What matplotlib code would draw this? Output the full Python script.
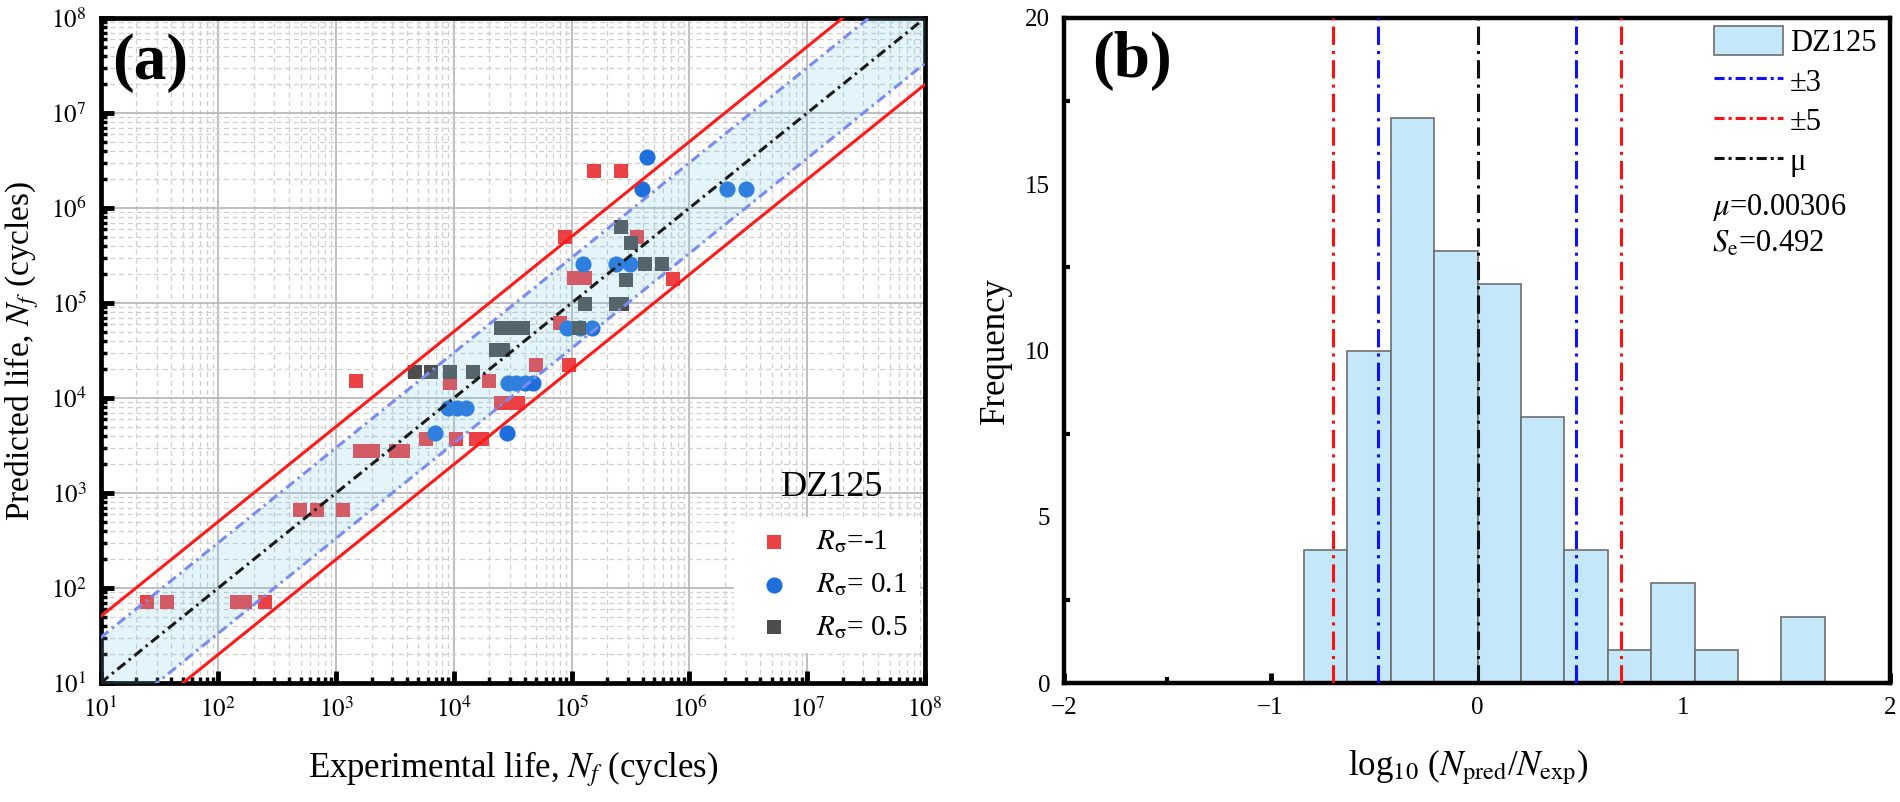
import numpy as np
import matplotlib
matplotlib.use("Agg")
import matplotlib.pyplot as plt
from matplotlib.ticker import FuncFormatter, LogLocator, MultipleLocator
from matplotlib.patches import Patch
from matplotlib.lines import Line2D

plt.rcParams['font.family'] = ['Liberation Serif', 'DejaVu Serif']
plt.rcParams['mathtext.fontset'] = 'stix'

# ---- panel (a) data: experimental vs predicted life (cycles)
red_exp = [25, 37, 145, 168, 250, 490, 690, 1150, 1600, 2050, 3200, 3700,
           1480, 5800, 10500, 15500, 17500, 9300, 20000, 25000, 30000, 35000,
           50000, 95000, 79000, 105000, 130000, 87000, 360000, 720000,
           155000, 260000]
red_pred = [72, 72, 72, 72, 72, 670, 670, 670, 2800, 2800, 2800, 2800,
            15000, 3700, 3700, 3700, 3700, 14300, 15000, 8900, 8900, 8900,
            22000, 22000, 61000, 183000, 183000, 490000, 490000, 180000,
            2450000, 2450000]

blue_exp = [6900, 28000, 9000, 10600, 12600, 29000, 34000, 40000, 47000,
            91000, 117000, 150000, 126000, 240000, 310000, 395000, 440000,
            2100000, 3000000]
blue_pred = [4300, 4300, 7900, 7900, 7900, 14300, 14300, 14300, 14300,
             54600, 54600, 54600, 260000, 260000, 260000, 1570000, 3470000,
             1570000, 1570000]

grey_exp = [4700, 6400, 9300, 14400, 23000, 26000, 25000, 32000, 39000,
            115000, 129000, 240000, 270000, 290000, 420000, 590000, 320000,
            260000]
grey_pred = [19000, 19000, 19000, 19000, 32000, 32000, 55000, 55000, 55000,
             54600, 98000, 98000, 98000, 174000, 255000, 255000, 430000,
             630000]

band_factors = [3, 5]

# ---- panel (b) data: histogram of log10(Npred/Nexp)
bin_edges = [-0.838, -0.628, -0.417, -0.207, 0.003, 0.213, 0.423, 0.634,
             0.844, 1.054, 1.264, 1.474, 1.684]
counts = [4, 10, 17, 13, 12, 8, 4, 1, 3, 1, 0, 2]
mu = 0.00306
se = 0.492

fig = plt.figure(figsize=(19, 8.02), dpi=100)
W, H = 1900, 802
ax1 = fig.add_axes([100.5 / W, (H - 683) / H, 824.5 / W, 665 / H])
ax2 = fig.add_axes([1064 / W, (H - 683) / H, 826 / W, 665 / H])

RED = '#eb4044'
BLUE = '#1e6edc'
GREY = '#4d4d4d'
LDASH = (3.3, 1.5, 0.8, 1.5)

# ---- panel (a)
ax1.set_xscale('log')
ax1.set_yscale('log')
ax1.set_xlim(1e1, 1e8)
ax1.set_ylim(1e1, 1e8)

ax1.scatter(red_exp, red_pred, marker='s', s=115, color=RED, lw=0, zorder=3,
            label=r'$R_\mathrm{σ}$=-1')
ax1.scatter(blue_exp, blue_pred, marker='o', s=135, color=BLUE, lw=0, zorder=3,
            label=r'$R_\mathrm{σ}$= 0.1')
ax1.scatter(grey_exp, grey_pred, marker='s', s=115, color=GREY, lw=0, zorder=3,
            label=r'$R_\mathrm{σ}$= 0.5')

xs = np.array([1e1, 1e8])
f3 = band_factors[0]
f5 = band_factors[1]
ax1.fill_between(xs, xs / f3, xs * f3, color='#73c8eb', alpha=0.2, lw=0, zorder=4)
ax1.plot(xs, xs * f5, color='#ff1a1a', lw=2.2, zorder=5)
ax1.plot(xs, xs / f5, color='#ff1a1a', lw=2.2, zorder=5)
ax1.plot(xs, xs * f3, color='#7b8cf0', lw=2.2, dashes=LDASH, zorder=5)
ax1.plot(xs, xs / f3, color='#7b8cf0', lw=2.2, dashes=LDASH, zorder=5)
ax1.plot(xs, xs, color='#1a1a1a', lw=2.2, dashes=LDASH, zorder=5)

ax1.xaxis.set_major_locator(LogLocator(base=10, numticks=10))
ax1.yaxis.set_major_locator(LogLocator(base=10, numticks=10))
ax1.xaxis.set_minor_locator(LogLocator(base=10, subs=np.arange(2, 10), numticks=100))
ax1.yaxis.set_minor_locator(LogLocator(base=10, subs=np.arange(2, 10), numticks=100))
fmt = FuncFormatter(lambda v, p: r'$10^{%d}$' % int(round(np.log10(v))))
ax1.xaxis.set_major_formatter(fmt)
ax1.yaxis.set_major_formatter(fmt)
ax1.grid(which='major', color='#b4b4b4', lw=1.2, zorder=0)
ax1.grid(which='minor', color='#cfcfcf', lw=0.9, ls=(0, (4, 3)), zorder=0)
ax1.set_axisbelow(True)

ax1.tick_params(which='major', direction='in', length=9, width=3.5, labelsize=18, pad=10)
ax1.tick_params(which='minor', direction='in', length=4, width=2.5)
for s in ax1.spines.values():
    s.set_linewidth(3.4)

ax1.set_xlabel(r'Experimental life, $N_f$ (cycles)', fontsize=25)
ax1.set_ylabel(r'Predicted life, $N_f$ (cycles)', fontsize=24)
ax1.xaxis.set_label_coords(0.501, -0.1)
ax1.yaxis.set_label_coords(-0.0725, 0.5)
ax1.text(0.014, 0.977, '(a)', transform=ax1.transAxes, fontsize=47,
         fontweight='bold', va='top', ha='left', zorder=10)
ax1.text(0.887, 0.281, 'DZ125', transform=ax1.transAxes, fontsize=26,
         ha='center', va='baseline', zorder=10)

leg1 = ax1.legend(loc='upper left', bbox_to_anchor=(0.751, 0.272), fontsize=21,
                  frameon=True, framealpha=1, edgecolor='none', fancybox=False,
                  handlelength=1.94, handletextpad=0.47, labelspacing=0.55,
                  borderpad=0.4, scatterpoints=1)
leg1.set_zorder(8)

# ---- panel (b)
lefts = bin_edges[:-1]
widths = np.diff(bin_edges)
ax2.bar(lefts, counts, width=widths, align='edge', color='#c5e7fa',
        edgecolor='#6e6e6e', lw=1.2, zorder=2, label='DZ125')
VDASH = (6, 2, 1, 2)
ax2.axvline(-np.log10(3), color='#1010ff', lw=2.2, dashes=VDASH, zorder=3)
ax2.axvline(np.log10(3), color='#1010ff', lw=2.2, dashes=VDASH, zorder=3)
ax2.axvline(-np.log10(5), color='#ff1010', lw=2.2, dashes=VDASH, zorder=3)
ax2.axvline(np.log10(5), color='#ff1010', lw=2.2, dashes=VDASH, zorder=3)
ax2.axvline(mu, color='#111111', lw=2.2, dashes=VDASH, zorder=3)

ax2.set_xlim(-2, 2)
ax2.set_ylim(0, 20)
ax2.xaxis.set_major_locator(MultipleLocator(1))
ax2.xaxis.set_minor_locator(MultipleLocator(0.5))
ax2.yaxis.set_major_locator(MultipleLocator(5))
ax2.yaxis.set_minor_locator(MultipleLocator(2.5))
ax2.xaxis.set_major_formatter(FuncFormatter(lambda v, p: '%d' % v if v >= 0 else '\u2212%d' % -v))
ax2.tick_params(which='major', direction='in', length=7, width=3.5, labelsize=18, pad=10)
ax2.tick_params(axis='y', which='major', length=0)
ax2.tick_params(which='minor', direction='in', length=4, width=3)
for s in ax2.spines.values():
    s.set_linewidth(3.2)

ax2.set_xlabel(r'log$_{10}$ ($N_\mathrm{pred}$/$N_\mathrm{exp}$)', fontsize=25)
ax2.set_ylabel('Frequency', fontsize=25)
ax2.xaxis.set_label_coords(0.49, -0.098)
ax2.yaxis.set_label_coords(-0.0627, 0.5)
ax2.text(0.034, 0.98, '(b)', transform=ax2.transAxes, fontsize=47,
         fontweight='bold', va='top', ha='left')

LEGDASH = (3.3, 1.3, 1, 1.3)
handles = [Patch(facecolor='#c5e7fa', edgecolor='#6e6e6e', lw=1.2),
           Line2D([], [], color='#1010ff', lw=2.2, dashes=LEGDASH),
           Line2D([], [], color='#ff1010', lw=2.2, dashes=LEGDASH),
           Line2D([], [], color='#111111', lw=2.2, dashes=LEGDASH)]
ax2.legend(handles, ['DZ125', '±3', '±5', 'μ'], loc='upper left',
           bbox_to_anchor=(0.787, 0.988), fontsize=22, frameon=False,
           handlelength=2.25, handletextpad=0.23, labelspacing=0.25,
           borderpad=0, borderaxespad=0, handleheight=1.1)
ax2.text(0.7845, 0.7038, r'$\mu$=0.00306', transform=ax2.transAxes, fontsize=22,
         ha='left', va='baseline')
ax2.text(0.7845, 0.648, r'$S_\mathrm{e}$=0.492', transform=ax2.transAxes, fontsize=22,
         ha='left', va='baseline')

fig.savefig('out.png', dpi=100)
